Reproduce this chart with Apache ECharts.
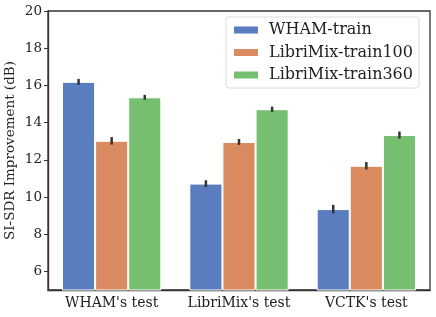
<!DOCTYPE html>
<html><head><meta charset="utf-8">
<script src="https://cdn.jsdelivr.net/npm/echarts@6/dist/echarts.min.js"></script>
<style>html,body{margin:0;padding:0;background:#fff}#c{width:436px;height:317px}</style>
</head><body><div id="c"></div>
<script>
const categories = ["WHAM's test", "LibriMix's test", "VCTK's test"];
const seriesNames = ["WHAM-train", "LibriMix-train100", "LibriMix-train360"];
const whamTrain = [16.19, 10.72, 9.35];
const libri100 = [13.02, 12.96, 11.68];
const libri360 = [15.36, 14.72, 13.33];
const whamTrainErr = [0.16, 0.18, 0.23];
const libri100Err = [0.2, 0.16, 0.2];
const libri360Err = [0.13, 0.14, 0.19];
const yTicks = [6, 8, 10, 12, 14, 16, 18, 20];
const colors = ['#597DBF', '#D98B5F', '#76BF71'];

const values = [whamTrain, libri100, libri360];
const errs = [whamTrainErr, libri100Err, libri360Err];
const font = 'DejaVu Serif';
const barFrac = 0.26;

const series = [];
values.forEach((vals, i) => {
  series.push({
    name: seriesNames[i], type: 'bar', data: vals, barWidth: (barFrac*100)+'%', barGap: '0%',
    itemStyle: { color: colors[i], borderColor: '#fff', borderWidth: 1 }, z: 2
  });
});
values.forEach((vals, i) => {
  series.push({
    type: 'custom', z: 5, silent: true,
    data: vals.map((v, k) => [k, v - errs[i][k], v + errs[i][k]]),
    renderItem: function (params, api) {
      const c = api.value(0);
      const lo = api.coord([c, api.value(1)]);
      const hi = api.coord([c, api.value(2)]);
      const bw = api.size([1, 0])[0];
      const x = lo[0] + (i - 1) * bw * barFrac;
      return { type: 'line', shape: { x1: x, y1: lo[1], x2: x, y2: hi[1] },
        style: { stroke: '#333', lineWidth: 2.5 } };
    }
  });
});

const chart = echarts.init(document.getElementById('c'));
chart.setOption({
  animation: false,
  backgroundColor: '#fff',
  color: colors,
  grid: { left: 48, right: 6, top: 11, bottom: 27, show: true, borderColor: '#333', borderWidth: 1.3,
    containLabel: false, outerBoundsMode: 'none' },
  legend: {
    data: seriesNames, left: 226, top: 17, orient: 'vertical',
    itemWidth: 26, itemHeight: 9, itemGap: 6.5,
    padding: [5, 6, 5, 6],
    borderColor: '#dcdcdc', borderWidth: 1, borderRadius: 3,
    textStyle: { fontFamily: font, fontSize: 16, color: '#222', padding: [0, 0, 0, 5] },
    icon: 'rect'
  },
  xAxis: {
    type: 'category', data: categories,
    axisLine: { lineStyle: { color: '#333', width: 1.3 } },
    axisTick: { alignWithLabel: true, length: 4, lineStyle: { color: '#333' } },
    axisLabel: { fontFamily: font, fontSize: 14, color: '#222', margin: 6, interval: 0, hideOverlap: false }
  },
  yAxis: {
    type: 'value', min: 5, max: 20, interval: 1,
    name: 'SI-SDR Improvement (dB)', nameLocation: 'middle', nameGap: 31, nameMoveOverlap: false,
    nameTextStyle: { fontFamily: font, fontSize: 13.5, color: '#222' },
    splitLine: { show: false },
    axisLine: { show: true, lineStyle: { color: '#333', width: 1.3 } },
    axisTick: { show: true, length: 4, lineStyle: { color: '#333' }, customValues: yTicks },
    axisLabel: { fontFamily: font, fontSize: 13.5, color: '#222', margin: 6, customValues: yTicks }
  },
  series: series
});
</script></body></html>
